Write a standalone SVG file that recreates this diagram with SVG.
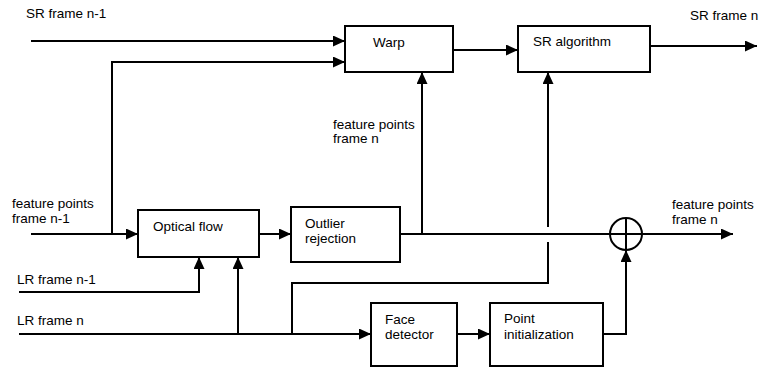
<svg xmlns="http://www.w3.org/2000/svg" width="762" height="368" viewBox="0 0 762 368">
  <style>
    .box { fill: #ffffff; stroke: #000000; stroke-width: 2; }
    .wire { fill: none; stroke: #000000; stroke-width: 2; }
    .lbl { font-family: "Liberation Sans", Arial, Helvetica, sans-serif; font-size: 13.5px; fill: #000000; }
  </style>
  <defs>
    <marker id="arrow" markerUnits="userSpaceOnUse" markerWidth="12" markerHeight="11" refX="12" refY="5.5" orient="auto">
      <path d="M0,0 L12,5.5 L0,11 Z" fill="#000000"/>
    </marker>
  </defs>

  <rect width="762" height="368" fill="#ffffff"/>

  <!-- free-standing signal labels -->
  <g id="labels">
    <text class="lbl" x="26" y="18">SR frame n-1</text>
    <text class="lbl" x="690" y="20">SR frame n</text>
    <text class="lbl" x="333" y="129">feature points</text>
    <text class="lbl" x="333" y="143">frame n</text>
    <text class="lbl" x="12" y="208">feature points</text>
    <text class="lbl" x="12" y="223">frame n-1</text>
    <text class="lbl" x="672" y="209">feature points</text>
    <text class="lbl" x="672" y="224">frame n</text>
    <text class="lbl" x="17" y="284">LR frame n-1</text>
    <text class="lbl" x="17" y="325">LR frame n</text>
  </g>

  <!-- connectors -->
  <g id="connectors">
    <path class="wire" d="M31,41 H345" marker-end="url(#arrow)"/>
    <path class="wire" d="M31,234 H138" marker-end="url(#arrow)"/>
    <path class="wire" d="M112,234 V62 H345" marker-end="url(#arrow)"/>
    <path class="wire" d="M259,234 H291" marker-end="url(#arrow)"/>
    <path class="wire" d="M400,234 H610"/>
    <path class="wire" d="M422,234 V72" marker-end="url(#arrow)"/>
    <path class="wire" d="M642,234 H733" marker-end="url(#arrow)"/>
    <path class="wire" d="M453,50 H518" marker-end="url(#arrow)"/>
    <path class="wire" d="M650,46 H757" marker-end="url(#arrow)"/>
    <path class="wire" d="M19,292 H199 V257" marker-end="url(#arrow)"/>
    <path class="wire" d="M19,334 H371" marker-end="url(#arrow)"/>
    <path class="wire" d="M238,334 V257" marker-end="url(#arrow)"/>
    <path class="wire" d="M292,334 V283 H548 V242"/>
    <path class="wire" d="M548,227 V72" marker-end="url(#arrow)"/>
    <path class="wire" d="M457,334 H490" marker-end="url(#arrow)"/>
    <path class="wire" d="M603,334 H626 V250" marker-end="url(#arrow)"/>
  </g>

  <g id="warp">
    <rect class="box" x="345" y="26" width="108" height="46"/>
    <text class="lbl" x="373" y="47">Warp</text>
  </g>

  <g id="sr-algorithm">
    <rect class="box" x="518" y="26" width="132" height="46"/>
    <text class="lbl" x="533" y="46">SR algorithm</text>
  </g>

  <g id="optical-flow">
    <rect class="box" x="138" y="210" width="121" height="47"/>
    <text class="lbl" x="153" y="231">Optical flow</text>
  </g>

  <g id="outlier-rejection">
    <rect class="box" x="291" y="207" width="109" height="55"/>
    <text class="lbl" x="305" y="228">Outlier</text>
    <text class="lbl" x="305" y="243">rejection</text>
  </g>

  <g id="face-detector">
    <rect class="box" x="371" y="303" width="86" height="63"/>
    <text class="lbl" x="385" y="324">Face</text>
    <text class="lbl" x="385" y="339">detector</text>
  </g>

  <g id="point-initialization">
    <rect class="box" x="490" y="303" width="113" height="63"/>
    <text class="lbl" x="504" y="323">Point</text>
    <text class="lbl" x="504" y="339">initialization</text>
  </g>

  <g id="adder">
    <circle class="box" cx="626" cy="234" r="16"/>
    <path class="wire" d="M610,234 H642 M626,218 V250"/>
  </g>
</svg>
